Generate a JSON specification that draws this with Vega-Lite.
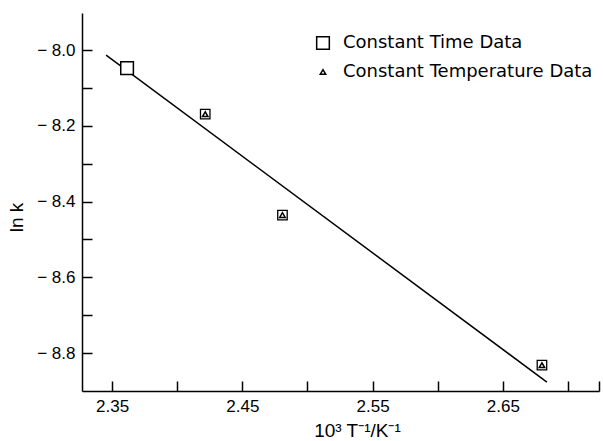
{
  "$schema": "https://vega.github.io/schema/vega-lite/v6.json",
  "width": 517,
  "height": 378,
  "autosize": "none",
  "padding": {"left": 82, "top": 13, "right": 4, "bottom": 50},
  "background": "white",
  "config": {
    "view": {"stroke": null},
    "axis": {
      "grid": false,
      "domainColor": "black",
      "domainWidth": 1.5,
      "tickColor": "black",
      "tickWidth": 1.5,
      "tickSize": -10,
      "labelPadding": 17,
      "labelFont": "Liberation Sans",
      "labelFontSize": 17,
      "labelColor": "black",
      "titleFont": "Liberation Sans",
      "titleFontWeight": "normal",
      "titleColor": "black"
    }
  },
  "datasets": {
    "points": [
      {"x": 2.3615, "lnk": -8.0475, "series": "Constant Time Data"},
      {"x": 2.4215, "lnk": -8.169, "series": "Constant Temperature Data"},
      {"x": 2.4808, "lnk": -8.4356, "series": "Constant Temperature Data"},
      {"x": 2.68, "lnk": -8.8317, "series": "Constant Temperature Data"}
    ],
    "fit": [
      {"x": 2.3454, "lnk": -8.0132},
      {"x": 2.6838, "lnk": -8.8766}
    ]
  },
  "layer": [
    {
      "data": {"name": "fit"},
      "mark": {"type": "line", "color": "black", "strokeWidth": 1.5},
      "encoding": {
        "x": {
          "field": "x", "type": "quantitative",
          "scale": {"domain": [2.3269, 2.7238], "nice": false, "zero": false},
          "axis": {
            "title": "10³ T⁻¹/K⁻¹",
            "titleFontSize": 19,
            "titleX": 275,
            "titleY": 39,
            "titleBaseline": "middle",
            "titleAlign": "center",
            "values": [2.35, 2.4, 2.45, 2.5, 2.55, 2.6, 2.65, 2.7, 2.7235],
            "format": ".2f",
            "labelExpr": "abs(round(datum.value*100) % 10 - 5) < 0.5 ? datum.label : ''",
            "labelFlush": false,
            "labelOverlap": false
          }
        },
        "y": {
          "field": "lnk", "type": "quantitative",
          "scale": {"domain": [-8.9, -7.902], "nice": false, "zero": false},
          "axis": {
            "title": "ln k",
            "titleFontSize": 19,
            "titleX": -66,
            "titleY": 204,
            "titleBaseline": "middle",
            "titleAlign": "center",
            "titleAngle": 270,
            "values": [-8.8, -8.7, -8.6, -8.5, -8.4, -8.3, -8.2, -8.1, -8.0],
            "format": ".1f",
            "labelExpr": "round(datum.value*10) % 2 == 0 ? replace(datum.label, '−', '− ') : ''",
            "labelFlush": false,
            "labelOverlap": false
          }
        }
      }
    },
    {
      "data": {"name": "points"},
      "transform": [{"filter": "datum.series == 'Constant Temperature Data'"}],
      "mark": {"type": "point", "shape": "square", "size": 90, "filled": true, "fill": "white", "stroke": "black", "strokeWidth": 1.3, "opacity": 1},
      "encoding": {
        "x": {"field": "x", "type": "quantitative"},
        "y": {"field": "lnk", "type": "quantitative"}
      }
    },
    {
      "data": {"name": "points"},
      "mark": {"type": "point", "filled": true, "fill": "white", "stroke": "black", "strokeWidth": 1.5, "opacity": 1},
      "encoding": {
        "x": {"field": "x", "type": "quantitative"},
        "y": {"field": "lnk", "type": "quantitative"},
        "shape": {
          "field": "series", "type": "nominal",
          "scale": {"domain": ["Constant Time Data", "Constant Temperature Data"], "range": ["square", "triangle-up"]},
          "legend": {
            "title": null,
            "orient": "none",
            "legendX": 232,
            "legendY": 21,
            "padding": 0,
            "rowPadding": 10,
            "labelFont": "DejaVu Sans",
            "labelFontSize": 18,
            "labelColor": "black",
            "labelOffset": 11,
            "labelLimit": 0,
            "encode": {
              "symbols": {"update": {"fill": {"value": "white"}, "stroke": {"value": "black"}, "strokeWidth": {"value": 1.5}, "opacity": {"value": 1}}}
            }
          }
        },
        "size": {
          "field": "series", "type": "nominal",
          "scale": {"domain": ["Constant Time Data", "Constant Temperature Data"], "range": [160, 30]},
          "legend": {
            "title": null,
            "orient": "none",
            "legendX": 232,
            "legendY": 21,
            "padding": 0,
            "rowPadding": 10,
            "labelFont": "DejaVu Sans",
            "labelFontSize": 18,
            "labelColor": "black",
            "labelOffset": 11,
            "labelLimit": 0,
            "encode": {
              "symbols": {"update": {"fill": {"value": "white"}, "stroke": {"value": "black"}, "strokeWidth": {"value": 1.5}, "opacity": {"value": 1}}}
            }
          }
        }
      }
    }
  ]
}
